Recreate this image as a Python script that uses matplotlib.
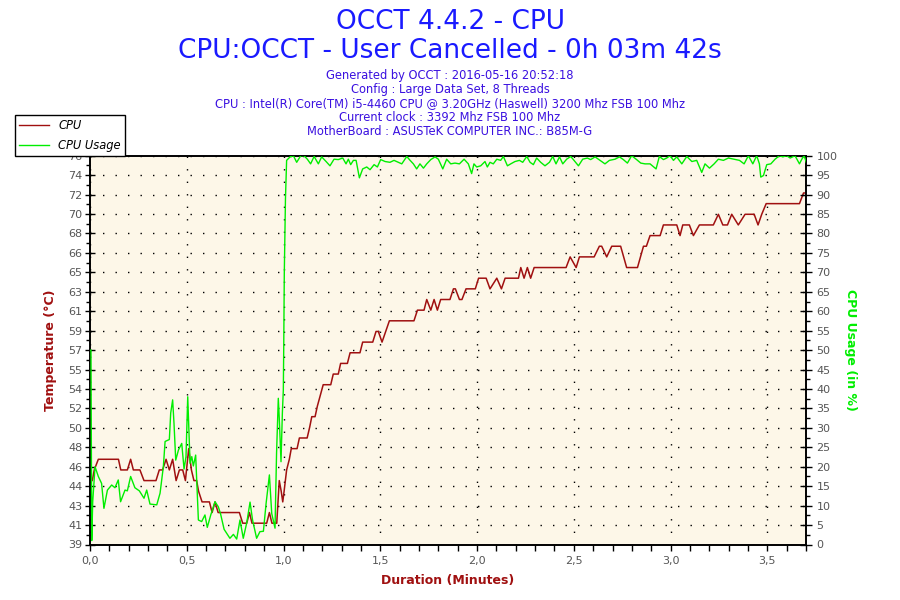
import numpy as np
import matplotlib
matplotlib.use("Agg")
import matplotlib.pyplot as plt
from matplotlib.lines import Line2D

# CPU temperature (deg C) over duration (minutes)
temp_t = [0.000, 0.012, 0.022, 0.043, 0.147, 0.159, 0.193, 0.210, 0.224, 0.258,
          0.279, 0.341, 0.358, 0.375, 0.393, 0.410, 0.427, 0.445, 0.462, 0.479,
          0.493, 0.510, 0.524, 0.537, 0.551, 0.561, 0.579, 0.617, 0.631, 0.646,
          0.662, 0.772, 0.789, 0.810, 0.824, 0.837, 0.913, 0.927, 0.940, 0.965,
          0.978, 0.988, 0.996, 1.003, 1.016, 1.030, 1.040, 1.070, 1.082, 1.122,
          1.135, 1.146, 1.163, 1.175, 1.190, 1.205, 1.244, 1.257, 1.283, 1.295,
          1.330, 1.344, 1.395, 1.409, 1.461, 1.478, 1.490, 1.509, 1.547, 1.674,
          1.692, 1.726, 1.740, 1.761, 1.778, 1.795, 1.812, 1.860, 1.878, 1.888,
          1.909, 1.922, 1.943, 1.991, 2.008, 2.047, 2.067, 2.102, 2.126, 2.145,
          2.214, 2.226, 2.243, 2.260, 2.277, 2.295, 2.460, 2.481, 2.512, 2.529,
          2.605, 2.632, 2.644, 2.670, 2.696, 2.742, 2.773, 2.829, 2.860, 2.875,
          2.894, 2.946, 2.963, 3.032, 3.049, 3.063, 3.097, 3.118, 3.149, 3.221,
          3.247, 3.270, 3.294, 3.316, 3.350, 3.385, 3.432, 3.452, 3.471, 3.494,
          3.666, 3.687, 3.700]
temp_c = [45, 45, 46, 47, 47, 46, 46, 47, 46, 46,
          45, 45, 46, 46, 47, 46, 47, 45, 46, 46,
          45, 48, 46, 45, 45, 44, 43, 43, 42, 43,
          42, 42, 41, 41, 42, 41, 41, 42, 41, 41,
          45, 44, 43, 44, 46, 47, 48, 48, 49, 49,
          50, 51, 51, 52, 53, 54, 54, 55, 55, 56,
          56, 57, 57, 58, 58, 59, 59, 58, 60, 60,
          61, 61, 62, 61, 62, 61, 62, 62, 63, 63,
          62, 62, 63, 63, 64, 64, 63, 64, 63, 64,
          64, 65, 64, 65, 64, 65, 65, 66, 65, 66,
          66, 67, 67, 66, 67, 67, 65, 65, 67, 67,
          68, 68, 69, 69, 68, 69, 69, 68, 69, 69,
          70, 69, 69, 70, 69, 70, 70, 69, 70, 71,
          71, 72, 72]

# CPU usage (%) over duration (minutes)
usage_t = [0.000, 0.005, 0.009, 0.014, 0.026, 0.043, 0.060, 0.072, 0.090, 0.112, 0.129,
           0.146, 0.158, 0.181, 0.193, 0.210, 0.232, 0.255, 0.279, 0.293, 0.310,
           0.345, 0.362, 0.379, 0.388, 0.410, 0.417, 0.427, 0.434, 0.443, 0.457,
           0.474, 0.486, 0.496, 0.505, 0.517, 0.526, 0.534, 0.546, 0.560, 0.577,
           0.594, 0.606, 0.624, 0.646, 0.663, 0.675, 0.693, 0.706, 0.723, 0.741,
           0.758, 0.775, 0.792, 0.810, 0.827, 0.840, 0.861, 0.878, 0.896, 0.910,
           0.927, 0.939, 0.956, 0.964, 0.973, 0.978, 0.987, 0.994, 0.999, 1.001,
           1.004, 1.010, 1.016, 1.034, 1.051, 1.068, 1.089, 1.106, 1.123, 1.140,
           1.158, 1.180, 1.197, 1.220, 1.240, 1.261, 1.283, 1.306, 1.323, 1.335,
           1.347, 1.361, 1.375, 1.392, 1.409, 1.430, 1.447, 1.468, 1.485, 1.502,
           1.525, 1.550, 1.571, 1.593, 1.611, 1.637, 1.654, 1.671, 1.688, 1.705,
           1.723, 1.740, 1.761, 1.783, 1.800, 1.823, 1.843, 1.864, 1.886, 1.909,
           1.933, 1.955, 1.972, 1.984, 1.998, 2.019, 2.041, 2.053, 2.067, 2.084,
           2.102, 2.122, 2.136, 2.157, 2.174, 2.196, 2.219, 2.236, 2.257, 2.274,
           2.291, 2.308, 2.329, 2.351, 2.374, 2.391, 2.408, 2.426, 2.443, 2.463,
           2.484, 2.501, 2.524, 2.546, 2.570, 2.587, 2.610, 2.636, 2.661, 2.684,
           2.713, 2.736, 2.756, 2.777, 2.799, 2.822, 2.846, 2.868, 2.894, 2.925,
           2.942, 2.963, 2.980, 2.997, 3.015, 3.032, 3.058, 3.084, 3.110, 3.135,
           3.161, 3.178, 3.201, 3.225, 3.247, 3.273, 3.299, 3.328, 3.356, 3.380,
           3.402, 3.425, 3.445, 3.459, 3.466, 3.480, 3.497, 3.518, 3.540, 3.562,
           3.580, 3.600, 3.618, 3.643, 3.666, 3.678, 3.690, 3.704]
usage_pct = [50.0, 50.0, 1.0, 11.0, 20.0, 17.5, 15.7, 9.3, 14.0, 15.3, 14.6,
             16.6, 11.0, 14.0, 13.8, 17.5, 14.6, 13.8, 11.9, 14.0, 10.4,
             10.2, 13.2, 20.0, 26.5, 27.0, 33.8, 37.2, 31.2, 21.7, 24.3,
             26.0, 19.4, 22.6, 38.0, 20.9, 22.6, 20.2, 23.0, 6.3, 5.9,
             7.6, 4.4, 7.6, 11.0, 9.7, 7.8, 3.9, 2.9, 1.6, 2.6,
             1.4, 6.3, 1.6, 5.6, 10.9, 6.3, 1.6, 3.3, 3.4, 10.6,
             17.9, 8.0, 4.2, 23.5, 37.6, 32.5, 21.3, 33.8, 39.8, 50.2,
             69.8, 88.9, 98.8, 99.7, 100.0, 98.3, 100.0, 100.0, 99.1, 97.9,
             99.8, 97.9, 99.7, 98.5, 97.4, 99.1, 99.0, 99.4, 97.9, 99.1,
             97.7, 98.8, 98.8, 94.3, 96.6, 97.1, 96.4, 97.7, 97.1, 99.0,
             98.5, 98.3, 98.8, 98.3, 97.9, 99.8, 98.8, 97.9, 96.6, 97.9,
             96.8, 97.9, 99.0, 99.7, 99.1, 96.6, 99.1, 97.9, 98.1, 97.9,
             99.1, 97.9, 95.4, 97.9, 97.1, 97.4, 98.5, 97.1, 98.3, 97.9,
             99.1, 98.8, 99.8, 97.4, 97.9, 98.5, 98.8, 98.3, 99.8, 98.3,
             97.7, 99.4, 98.3, 97.4, 98.3, 99.8, 97.9, 99.7, 97.9, 99.1,
             99.8, 98.8, 97.4, 99.1, 99.4, 99.0, 99.7, 98.8, 97.9, 98.8,
             99.1, 99.7, 99.0, 98.1, 100.0, 99.1, 98.1, 97.9, 97.9, 96.6,
             99.8, 99.0, 99.4, 100.0, 98.8, 99.7, 97.9, 99.8, 98.5, 98.8,
             95.7, 97.9, 96.8, 97.9, 99.1, 98.8, 99.4, 99.1, 98.8, 97.9,
             100.0, 97.9, 100.0, 97.9, 94.5, 94.9, 97.7, 97.9, 99.1, 100.0,
             99.7, 100.0, 99.4, 100.0, 97.9, 99.1, 100.0, 97.9]

# axis ticks
x_ticks = [0.0, 0.5, 1.0, 1.5, 2.0, 2.5, 3.0, 3.5]
x_labels = ["0,0", "0,5", "1,0", "1,5", "2,0", "2,5", "3,0", "3,5"]
temp_labels = ["39", "41", "43", "44", "46", "48", "50", "52", "54", "55", "57",
               "59", "61", "63", "65", "66", "68", "70", "72", "74", "76"]
usage_ticks = list(range(0, 101, 5))

title_lines = ["OCCT 4.4.2 - CPU", "CPU:OCCT - User Cancelled - 0h 03m 42s"]
info_lines = [
    "Generated by OCCT : 2016-05-16 20:52:18",
    "Config : Large Data Set, 8 Threads",
    "CPU : Intel(R) Core(TM) i5-4460 CPU @ 3.20GHz (Haswell) 3200 Mhz FSB 100 Mhz",
    "Current clock : 3392 Mhz FSB 100 Mhz",
    "MotherBoard : ASUSTeK COMPUTER INC.: B85M-G",
]

red = "#a01010"
green = "#00ee00"
tick_color = "#555555"

fig = plt.figure(figsize=(9, 6), dpi=100)
ax = fig.add_axes([0.1, 0.0925, 0.7956, 0.648])
ax.set_facecolor("#fdf7e8")
ax.set_xlim(0, 3.7)
ax.set_ylim(39, 75.5)

ax2 = ax.twinx()
ax2.set_ylim(0, 100)

ax.plot(temp_t, temp_c, color=red, linewidth=1.1)
ax2.plot(usage_t, usage_pct, color=green, linewidth=1.0, zorder=3)

# x axis
ax.set_xticks(x_ticks)
ax.set_xticklabels(x_labels)
ax.set_xticks(np.arange(0, 3.71, 0.1), minor=True)
ax.tick_params(axis="x", which="both", direction="out", length=4,
               width=1, colors="black", labelcolor=tick_color, labelsize=8, pad=4)

# left axis
ax.set_yticks(np.linspace(39, 75.5, 21))
ax.set_yticklabels(temp_labels)
ax.set_yticks(np.linspace(39, 75.5, 41), minor=True)
ax.tick_params(axis="y", which="major", direction="inout", length=7,
               width=1, labelcolor=tick_color, labelsize=8, pad=2)
ax.tick_params(axis="y", which="minor", direction="out", length=3, width=1)

# right axis
ax2.set_yticks(usage_ticks)
ax2.set_yticks(np.arange(0, 101, 2.5), minor=True)
ax2.tick_params(axis="y", which="major", direction="inout", length=9,
                width=1, labelcolor=tick_color, labelsize=8, pad=3)
ax2.tick_params(axis="y", which="minor", direction="out", length=3, width=1)

ax.grid(True, which="major", color="black", linestyle=(0, (1, 8)), linewidth=1.0)
ax.set_axisbelow(True)

for a in (ax, ax2):
    for s in a.spines.values():
        s.set_linewidth(1.2)
        s.set_color("black")

ax.set_xlabel("Duration (Minutes)", color=red, fontsize=9, fontweight="bold", labelpad=6)
ax.set_ylabel("Temperature (°C)", color=red, fontsize=9, fontweight="bold", labelpad=8)
ax2.set_ylabel("CPU Usage (in %)", color=green, fontsize=9, fontweight="bold",
               rotation=270, labelpad=14)

# titles
fig.text(0.5, 0.963, title_lines[0], ha="center", va="center", color="#1a1aff", fontsize=19)
fig.text(0.5, 0.915, title_lines[1], ha="center", va="center", color="#1a1aff", fontsize=19)
info_y = [0.875, 0.851, 0.827, 0.804, 0.781]
for y, line in zip(info_y, info_lines):
    fig.text(0.5, y, line, ha="center", va="center", color="#3a10e0", fontsize=8.3)

handles = [Line2D([], [], color=red, linewidth=1.0),
           Line2D([], [], color=green, linewidth=1.0)]
leg = fig.legend(handles, ["CPU", "CPU Usage"], loc="upper left",
                 bbox_to_anchor=(15 / 900, 1 - 115 / 600), frameon=True,
                 fancybox=False, edgecolor="black", framealpha=1,
                 prop={"style": "italic", "size": 8.3}, handlelength=2.6,
                 borderaxespad=0, borderpad=0.35, labelspacing=0.6)
leg.get_frame().set_linewidth(1.0)

fig.savefig("out.png", dpi=100)
